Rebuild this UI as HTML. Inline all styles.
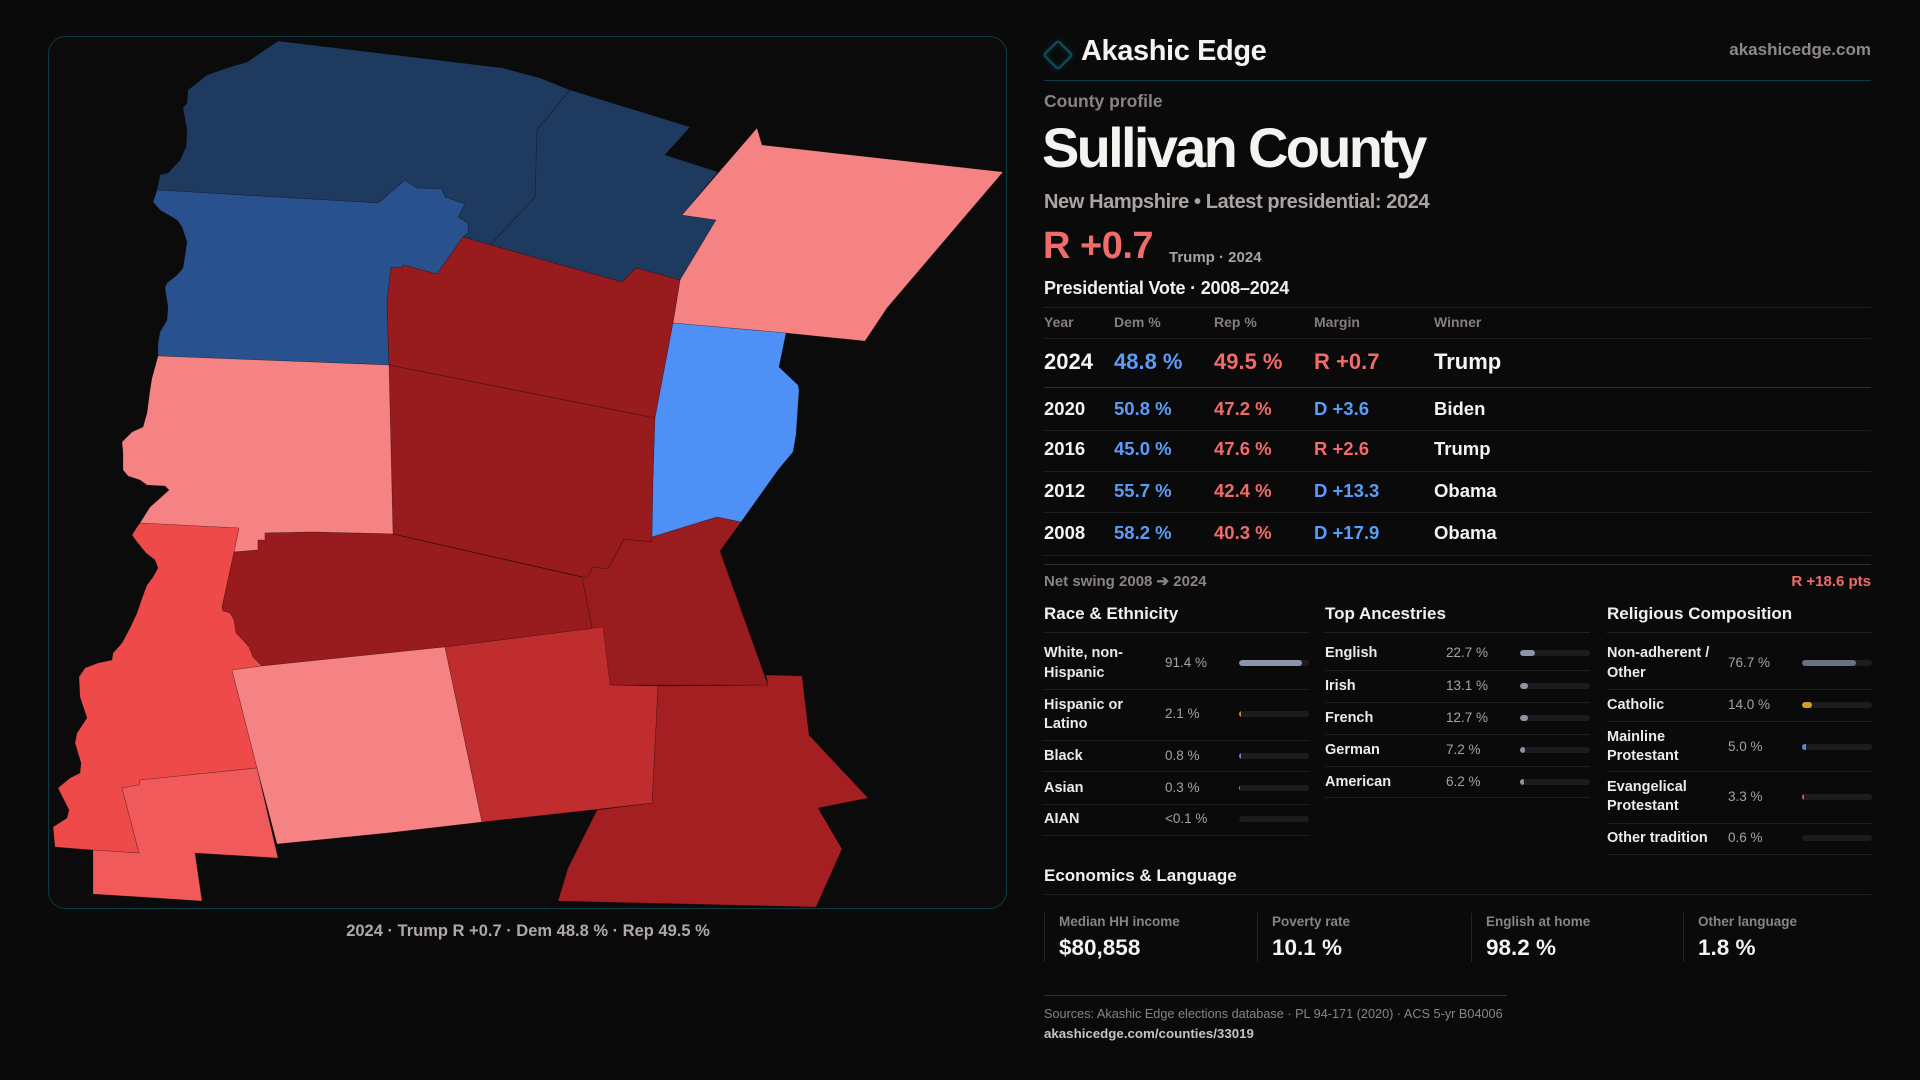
<!DOCTYPE html>
<html><head><meta charset="utf-8">
<style>
*{box-sizing:border-box}
html,body{margin:0;padding:0}
body{width:1920px;height:1080px;background:#0a0a0b;overflow:hidden;font-family:"Liberation Sans",sans-serif;position:relative;color:#f2f0ed}
.t{position:absolute;white-space:nowrap;line-height:40px;font-weight:700}
.r{font-weight:400}
.hl{position:absolute;height:1px;background:#1f1e1e}
.bar{position:absolute;height:6px;width:70px;background:#1c1b1e;border-radius:3px;overflow:hidden}
.bar i{display:block;height:6px;border-radius:3px}
.g{color:#8a8380}
.blue{color:#5a9cf8}
.red{color:#f26b6b}
.lab{font-size:14.5px;color:#ecebe8}
.val{font-size:13.5px;color:#a8a19e;font-weight:400}
.card{position:absolute;top:913px;height:49px;width:1px;background:#242323}
</style></head><body>

<svg style="position:absolute;left:0;top:0" width="1920" height="1080" viewBox="0 0 1920 1080">
<defs><filter id="gl" x="-50%" y="-50%" width="200%" height="200%"><feGaussianBlur stdDeviation="2"/></filter></defs>
<rect x="48.5" y="36.5" width="958" height="872" rx="17" fill="#0c0b0c" stroke="#0d3a42" stroke-width="1"/>
<g stroke="rgba(10,5,8,0.35)" stroke-width="0.6" stroke-linejoin="round">
<polygon fill="#1f3a5f" points="278,41 503,68 540,78 570,90 690,127 665,155 718,172 682,215 716,220 680,280 636,268 622,282 540,259 463,237 468,233 468,223 458,217 465,204 445,197 442,189 417,188 405,180 378,203 157,190 160,175 168,173 180,160 186,147 187,130 183,108 187,103 188,90 207,75 230,67 247,62"/>
<polygon fill="#28518e" points="157,190 378,203 405,180 417,188 442,189 445,197 465,204 458,217 468,223 468,233 463,237 437,274 403,265 402,268 391,267 387,303 389,365 158,356 158,343 160,332 167,320 168,307 165,288 167,283 177,275 183,268 187,242 182,227 177,220 160,210 153,202"/>
<polygon fill="#f58383" points="757,128 762,145 1003,172 962,220 887,308 865,341 786,333 673,323 680,280 716,220 682,215"/>
<polygon fill="#981b1e" points="391,267 402,268 403,265 437,274 463,237 540,259 622,282 636,268 680,280 673,323 655,418 653,480 652,542 624,539 608,569 593,567 587,578 582,577 393,534 389,365 387,303"/>
<polygon fill="#4f90f6" points="673,323 786,333 779,367 798,385 799,390 796,435 793,452 778,470 741,522 717,517 652,537 653,480 655,418"/>
<polygon fill="#f58383" points="158,356 389,365 393,534 313,532 265,533 265,540 258,540 258,550 234,552 239,528 140,523 150,507 158,500 169,490 165,486 147,485 140,480 128,476 123,470 123,453 122,442 132,432 143,427 147,413 150,390 152,378"/>
<polygon fill="#981b1e" points="265,533 313,532 393,534 582,577 592,627 603,627 445,647 262,666 253,657 249,647 243,640 236,633 234,620 230,613 223,611 222,607 234,552 258,550 258,540 265,540"/>
<polygon fill="#a31f22" points="658,686 768,685 766,675 802,676 809,735 868,798 818,808 842,849 816,907 558,901 568,868 597,810 652,803"/>
<polygon fill="#991c1f" points="652,537 717,517 741,522 720,551 768,685 610,685 592,627 582,577 587,578 593,567 608,569 624,539 652,542"/>
<polygon fill="#ef4a4a" points="140,523 239,528 234,552 222,607 223,611 230,613 234,620 236,633 243,640 249,647 253,657 262,666 232,670 257,768 140,780 139,785 122,788 139,853 93,850 55,847 53,827 67,818 69,810 58,788 70,778 80,773 81,763 75,743 77,733 87,718 80,697 79,677 85,668 98,663 112,660 113,653 122,643 130,628 137,613 145,590 147,585 153,577 158,568 155,560 146,553 137,542 132,535 137,527"/>
<polygon fill="#f58383" points="232,670 262,666 445,647 482,822 387,833 277,844 257,768"/>
<polygon fill="#c02d2f" points="445,647 603,627 610,685 658,686 652,803 600,809 482,822"/>
<polygon fill="#f05a5a" points="122,788 139,785 140,780 257,768 278,858 195,853 202,901 93,894 93,850 139,853"/>
</g>
<g stroke="rgba(10,5,8,0.45)" stroke-width="0.8" fill="none">
<polyline points="570,90 537,130 535,197 490,245"/>
<line x1="389" y1="365" x2="655" y2="418"/>
<line x1="393" y1="534" x2="582" y2="577"/>
</g>
<rect x="1048" y="45" width="20" height="20" rx="2" fill="none" stroke="#0f6a78" stroke-width="3" opacity="0.35" filter="url(#gl)" transform="rotate(45 1058 55)"/>
<rect x="1048" y="45" width="20" height="20" rx="2" fill="none" stroke="#0f4c57" stroke-width="2.2" transform="rotate(45 1058 55)"/>
</svg>

<div class="t" style="left:0;width:1056px;text-align:center;top:911px;font-size:16.5px;color:#b0a9a5">2024 · Trump R +0.7 · Dem 48.8 % · Rep 49.5 %</div>

<!-- header -->
<div class="t" style="left:1081px;top:31px;font-size:29px;color:#f5f3f0;letter-spacing:-0.4px">Akashic Edge</div>
<div class="t" style="right:49px;top:30px;font-size:17px;color:#8f8986">akashicedge.com</div>
<div class="hl" style="left:1044px;width:827px;top:80px;background:#0e3d45"></div>

<div class="t" style="left:1044px;top:81px;font-size:17.5px;color:#8a8380">County profile</div>
<div class="t" style="left:1042px;top:118px;font-size:56px;line-height:60px;color:#f5f3f0;letter-spacing:-2.7px">Sullivan County</div>
<div class="t" style="left:1044px;top:182px;font-size:20px;color:#aba4a1;letter-spacing:-0.4px">New Hampshire • Latest presidential: 2024</div>
<div class="t red" style="left:1043px;top:226px;font-size:38px;letter-spacing:-0.5px">R +0.7</div>
<div class="t" style="left:1169px;top:238px;font-size:15px;color:#a9a3a0">Trump · 2024</div>
<div class="t" style="left:1044px;top:268px;font-size:18px;color:#f2f0ed;letter-spacing:-0.2px">Presidential Vote · 2008–2024</div>

<div class="hl" style="left:1044px;width:827px;top:307px;background:#222121"></div>
<div class="t g" style="left:1044px;top:302px;font-size:14px;color:#857e7b">Year</div>
<div class="t g" style="left:1114px;top:302px;font-size:14px;color:#857e7b">Dem %</div>
<div class="t g" style="left:1214px;top:302px;font-size:14px;color:#857e7b">Rep %</div>
<div class="t g" style="left:1314px;top:302px;font-size:14px;color:#857e7b">Margin</div>
<div class="t g" style="left:1434px;top:302px;font-size:14px;color:#857e7b">Winner</div>
<div class="hl" style="left:1044px;width:827px;top:338px"></div>

<div class="t" style="left:1044px;top:342px;font-size:22px;color:#f5f3f0">2024</div>
<div class="t blue" style="left:1114px;top:342px;font-size:22px">48.8 %</div>
<div class="t red" style="left:1214px;top:342px;font-size:22px">49.5 %</div>
<div class="t red" style="left:1314px;top:342px;font-size:22px">R +0.7</div>
<div class="t" style="left:1434px;top:342px;font-size:22px;color:#f5f3f0">Trump</div>
<div class="hl" style="left:1044px;width:827px;top:387px;background:#2e2d2d"></div>

<div class="t" style="left:1044px;top:389px;font-size:18.5px;color:#f5f3f0">2020</div>
<div class="t blue" style="left:1114px;top:389px;font-size:18.5px">50.8 %</div>
<div class="t red" style="left:1214px;top:389px;font-size:18.5px">47.2 %</div>
<div class="t blue" style="left:1314px;top:389px;font-size:18.5px">D +3.6</div>
<div class="t" style="left:1434px;top:389px;font-size:18.5px;color:#f5f3f0">Biden</div>
<div class="hl" style="left:1044px;width:827px;top:430px"></div>

<div class="t" style="left:1044px;top:429px;font-size:18.5px;color:#f5f3f0">2016</div>
<div class="t blue" style="left:1114px;top:429px;font-size:18.5px">45.0 %</div>
<div class="t red" style="left:1214px;top:429px;font-size:18.5px">47.6 %</div>
<div class="t red" style="left:1314px;top:429px;font-size:18.5px">R +2.6</div>
<div class="t" style="left:1434px;top:429px;font-size:18.5px;color:#f5f3f0">Trump</div>
<div class="hl" style="left:1044px;width:827px;top:471px"></div>

<div class="t" style="left:1044px;top:471px;font-size:18.5px;color:#f5f3f0">2012</div>
<div class="t blue" style="left:1114px;top:471px;font-size:18.5px">55.7 %</div>
<div class="t red" style="left:1214px;top:471px;font-size:18.5px">42.4 %</div>
<div class="t blue" style="left:1314px;top:471px;font-size:18.5px">D +13.3</div>
<div class="t" style="left:1434px;top:471px;font-size:18.5px;color:#f5f3f0">Obama</div>
<div class="hl" style="left:1044px;width:827px;top:512px"></div>

<div class="t" style="left:1044px;top:513px;font-size:18.5px;color:#f5f3f0">2008</div>
<div class="t blue" style="left:1114px;top:513px;font-size:18.5px">58.2 %</div>
<div class="t red" style="left:1214px;top:513px;font-size:18.5px">40.3 %</div>
<div class="t blue" style="left:1314px;top:513px;font-size:18.5px">D +17.9</div>
<div class="t" style="left:1434px;top:513px;font-size:18.5px;color:#f5f3f0">Obama</div>
<div class="hl" style="left:1044px;width:827px;top:555px"></div>
<div class="hl" style="left:1044px;width:827px;top:564px;background:#2e2d2d"></div>

<div class="t" style="left:1044px;top:562px;font-size:15px;color:#8a8380">Net swing 2008 ➔ 2024</div>
<div class="t red" style="right:49px;top:562px;font-size:15px">R +18.6 pts</div>

<!-- section headings -->
<div class="t" style="left:1044px;top:594px;font-size:17px">Race &amp; Ethnicity</div>
<div class="t" style="left:1325px;top:594px;font-size:17px">Top Ancestries</div>
<div class="t" style="left:1607px;top:594px;font-size:17px">Religious Composition</div>
<div class="hl" style="left:1044px;width:265px;top:632px;background:#222121"></div>
<div class="hl" style="left:1325px;width:265px;top:632px;background:#222121"></div>
<div class="hl" style="left:1607px;width:265px;top:632px;background:#222121"></div>

<!-- race -->
<div class="t lab" style="left:1044px;top:633px">White, non-</div>
<div class="t lab" style="left:1044px;top:653px">Hispanic</div>
<div class="t val" style="left:1165px;top:643px">91.4 %</div>
<div class="bar" style="left:1239px;top:660px"><i style="width:63px;background:#8a96a8"></i></div>
<div class="hl" style="left:1044px;width:265px;top:689px"></div>

<div class="t lab" style="left:1044px;top:685px">Hispanic or</div>
<div class="t lab" style="left:1044px;top:704px">Latino</div>
<div class="t val" style="left:1165px;top:694px">2.1 %</div>
<div class="bar" style="left:1239px;top:711px"><i style="width:2px;background:#d98a1a;border-radius:0"></i></div>
<div class="hl" style="left:1044px;width:265px;top:740px"></div>

<div class="t lab" style="left:1044px;top:736px">Black</div>
<div class="t val" style="left:1165px;top:736px">0.8 %</div>
<div class="bar" style="left:1239px;top:753px"><i style="width:1.5px;background:#8b6fe0;border-radius:0"></i></div>
<div class="hl" style="left:1044px;width:265px;top:771px"></div>

<div class="t lab" style="left:1044px;top:768px">Asian</div>
<div class="t val" style="left:1165px;top:768px">0.3 %</div>
<div class="bar" style="left:1239px;top:785px"><i style="width:1px;background:#2fbf8f;border-radius:0"></i></div>
<div class="hl" style="left:1044px;width:265px;top:804px"></div>

<div class="t lab" style="left:1044px;top:799px">AIAN</div>
<div class="t val" style="left:1165px;top:799px">&lt;0.1 %</div>
<div class="bar" style="left:1239px;top:816px"></div>
<div class="hl" style="left:1044px;width:265px;top:835px"></div>

<!-- ancestries -->
<div class="t lab" style="left:1325px;top:633px">English</div>
<div class="t val" style="left:1446px;top:633px">22.7 %</div>
<div class="bar" style="left:1520px;top:650px"><i style="width:15px;background:#8a96a8"></i></div>
<div class="hl" style="left:1325px;width:265px;top:670px"></div>

<div class="t lab" style="left:1325px;top:666px">Irish</div>
<div class="t val" style="left:1446px;top:666px">13.1 %</div>
<div class="bar" style="left:1520px;top:683px"><i style="width:8px;background:#8a96a8"></i></div>
<div class="hl" style="left:1325px;width:265px;top:702px"></div>

<div class="t lab" style="left:1325px;top:698px">French</div>
<div class="t val" style="left:1446px;top:698px">12.7 %</div>
<div class="bar" style="left:1520px;top:715px"><i style="width:8px;background:#8a96a8"></i></div>
<div class="hl" style="left:1325px;width:265px;top:734px"></div>

<div class="t lab" style="left:1325px;top:730px">German</div>
<div class="t val" style="left:1446px;top:730px">7.2 %</div>
<div class="bar" style="left:1520px;top:747px"><i style="width:5px;background:#8a96a8"></i></div>
<div class="hl" style="left:1325px;width:265px;top:766px"></div>

<div class="t lab" style="left:1325px;top:762px">American</div>
<div class="t val" style="left:1446px;top:762px">6.2 %</div>
<div class="bar" style="left:1520px;top:779px"><i style="width:4px;background:#8a96a8"></i></div>
<div class="hl" style="left:1325px;width:265px;top:797px"></div>

<!-- religion -->
<div class="t lab" style="left:1607px;top:633px">Non-adherent /</div>
<div class="t lab" style="left:1607px;top:653px">Other</div>
<div class="t val" style="left:1728px;top:643px">76.7 %</div>
<div class="bar" style="left:1802px;top:660px"><i style="width:54px;background:#6b7080"></i></div>
<div class="hl" style="left:1607px;width:265px;top:689px"></div>

<div class="t lab" style="left:1607px;top:685px">Catholic</div>
<div class="t val" style="left:1728px;top:685px">14.0 %</div>
<div class="bar" style="left:1802px;top:702px"><i style="width:10px;background:#d4a020"></i></div>
<div class="hl" style="left:1607px;width:265px;top:721px"></div>

<div class="t lab" style="left:1607px;top:717px">Mainline</div>
<div class="t lab" style="left:1607px;top:736px">Protestant</div>
<div class="t val" style="left:1728px;top:727px">5.0 %</div>
<div class="bar" style="left:1802px;top:744px"><i style="width:3.5px;background:#4a90e2;border-radius:0"></i></div>
<div class="hl" style="left:1607px;width:265px;top:771px"></div>

<div class="t lab" style="left:1607px;top:767px">Evangelical</div>
<div class="t lab" style="left:1607px;top:786px">Protestant</div>
<div class="t val" style="left:1728px;top:777px">3.3 %</div>
<div class="bar" style="left:1802px;top:794px"><i style="width:2px;background:#e05555;border-radius:0"></i></div>
<div class="hl" style="left:1607px;width:265px;top:823px"></div>

<div class="t lab" style="left:1607px;top:818px">Other tradition</div>
<div class="t val" style="left:1728px;top:818px">0.6 %</div>
<div class="bar" style="left:1802px;top:835px"></div>
<div class="hl" style="left:1607px;width:265px;top:854px"></div>

<!-- economics -->
<div class="t" style="left:1044px;top:856px;font-size:17px">Economics &amp; Language</div>
<div class="hl" style="left:1044px;width:827px;top:894px;background:#222121"></div>

<div class="card" style="left:1044px"></div>
<div class="t" style="left:1059px;top:902px;font-size:13.5px;color:#8a8380">Median HH income</div>
<div class="t" style="left:1059px;top:928px;font-size:22.5px;color:#f5f3f0">$80,858</div>

<div class="card" style="left:1257px"></div>
<div class="t" style="left:1272px;top:902px;font-size:13.5px;color:#8a8380">Poverty rate</div>
<div class="t" style="left:1272px;top:928px;font-size:22.5px;color:#f5f3f0">10.1 %</div>

<div class="card" style="left:1471px"></div>
<div class="t" style="left:1486px;top:902px;font-size:13.5px;color:#8a8380">English at home</div>
<div class="t" style="left:1486px;top:928px;font-size:22.5px;color:#f5f3f0">98.2 %</div>

<div class="card" style="left:1683px"></div>
<div class="t" style="left:1698px;top:902px;font-size:13.5px;color:#8a8380">Other language</div>
<div class="t" style="left:1698px;top:928px;font-size:22.5px;color:#f5f3f0">1.8 %</div>

<div class="hl" style="left:1044px;width:463px;top:995px;background:#0e3d45"></div>
<div class="t r" style="left:1044px;top:994px;font-size:12.7px;color:#8a8380">Sources: Akashic Edge elections database · PL 94-171 (2020) · ACS 5-yr B04006</div>
<div class="t" style="left:1044px;top:1014px;font-size:13.3px;color:#c9c3c0">akashicedge.com/counties/33019</div>

</body></html>
